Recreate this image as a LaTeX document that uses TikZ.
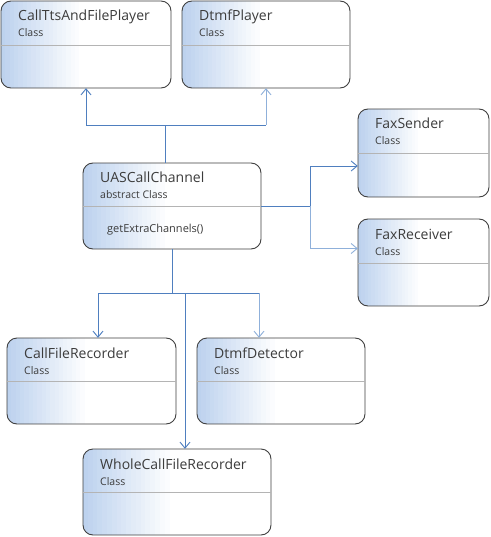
\documentclass[tikz,border=0pt]{standalone}
\usepackage{fontspec}
\setmainfont{Open Sans}
\usetikzlibrary{arrows.meta}
\definecolor{gradblue}{HTML}{BDD2EE}
\definecolor{boxline}{HTML}{404040}
\definecolor{sepline}{HTML}{B4B4B4}
\definecolor{txt}{HTML}{3C3C3C}
\definecolor{conn}{HTML}{4F7FBF}
\definecolor{connlight}{HTML}{8FB0DA}
\tikzset{
  classborder/.style={draw=boxline, line width=0.9pt, rounded corners=10pt},
  titletext/.style={anchor=base west, inner sep=0pt, text=txt, font=\fontsize{14}{16}\selectfont},
  subtext/.style={anchor=base west, inner sep=0pt, text=txt, font=\fontsize{10.5}{12}\selectfont},
  seprule/.style={draw=sepline, line width=0.8pt},
  cline/.style={draw=conn, line width=0.9pt},
  clight/.style={draw=connlight, line width=0.9pt},
  arr/.style={-{Straight Barb[length=6pt,width=10pt,line width=0.9pt]}},
}
% #1 name, #2 x1, #3 y1, #4 x2, #5 y2, #6 sep offset, #7 title, #8 subtitle
\newcommand\umlclass[8]{%
  \begin{scope}
    \clip[rounded corners=10pt] (#2,#3) rectangle (#4,#5);
    \fill[white] (#2,#3) rectangle (#4,#5);
    \foreach \i in {0,...,17} {
      \pgfmathsetmacro\gpct{100-\i*100/18}
      \fill[gradblue!\gpct!white] ({#2+\i*0.46*(#4-#2)/18},#3) rectangle ({#2+(\i+1.05)*0.46*(#4-#2)/18},#5);
    }
  \end{scope}
  \path[classborder] (#2,#3) rectangle (#4,#5);
  \node[inner sep=0pt, minimum width={(#4-#2)*1pt}, minimum height={(#5-#3)*1pt}] (#1) at ({(#2+#4)/2},{(#3+#5)/2}) {};
  \draw[seprule] (#2,#3+#6) -- (#4,#3+#6);
  \node[titletext] (#1-t) at (#2+17,#3+20) {#7};
  \node[subtext] (#1-s) at (#2+17,#3+36) {#8};
}
\begin{document}
\begin{tikzpicture}[x=1pt,y=-1pt]
\useasboundingbox[fill=white] (0,0) rectangle (490,537);
\umlclass{ctf}{1}{1}{171}{88}{44}{CallTtsAndFilePlayer}{Class}
\umlclass{dp}{182}{1}{350}{88}{44}{DtmfPlayer}{Class}
\umlclass{uas}{83}{163}{261}{249}{43}{UASCallChannel}{abstract Class}
\node[subtext, font=\fontsize{11}{12}\selectfont] (uas-m) at (107,232) {getExtraChannels()};
\umlclass{fs}{358}{109}{489}{197}{44}{FaxSender}{Class}
\umlclass{fr}{358}{219}{489}{306}{44}{FaxReceiver}{Class}
\umlclass{cfr}{7}{338}{176}{424}{43}{CallFileRecorder}{Class}
\umlclass{dd}{197}{338}{365}{424}{43}{DtmfDetector}{Class}
\umlclass{wcf}{83}{449}{271}{535}{43}{WholeCallFileRecorder}{Class}
% junctions
\coordinate (jt) at (165,125);
\coordinate (jr) at (310,206);
\coordinate (jb) at (172,293);
\coordinate (jw) at (185,293);
\coordinate (fsin) at ([yshift=-13pt]fs.west);
\coordinate (frin) at ([yshift=14pt]fr.west);
\coordinate (cfrin) at ([xshift=6.5pt]cfr.north);
\coordinate (ddin) at ([xshift=-22pt]dd.north);
% top
\draw[cline] (jt |- uas.north) -- (jt);
\draw[cline,arr] (jt) -| (ctf.south);
\draw[cline] (jt) -- (jt -| dp.south);
\draw[clight,arr] (jt -| dp.south) -- (dp.south);
% right
\draw[cline] (uas.east) -- (jr);
\draw[cline,arr] (jr) |- (fsin);
\draw[clight,arr] (jr) |- (frin);
% bottom
\draw[cline] (uas.south) -- (jb);
\draw[cline,arr] (jb) -| (cfrin);
\draw[cline] (jb) -- (jb -| ddin);
\draw[clight,arr] (jb -| ddin) -- (ddin);
\draw[cline,arr] (jw) -- (jw |- wcf.north);
\end{tikzpicture}
\end{document}
